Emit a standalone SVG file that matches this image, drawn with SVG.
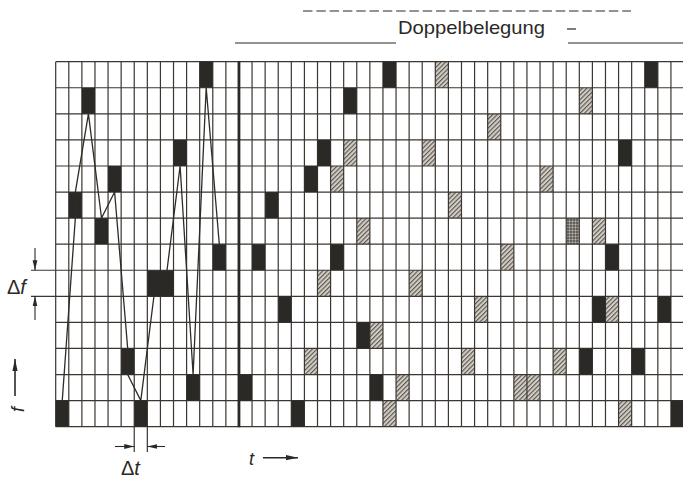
<svg xmlns="http://www.w3.org/2000/svg" width="683" height="479" viewBox="0 0 683 479">
<style>
.g{stroke:#3b3631;stroke-width:1.2;fill:none}
.b{fill:#2b2926}
.h{fill:url(#hatch)}
.s{fill:url(#stip)}
.ln{stroke:#2f2b27;stroke-width:1.3;fill:none}
.t{font-family:"Liberation Sans",Arial,sans-serif;fill:#2b2926}
.i{font-style:italic}
</style>
<defs>
<pattern id="hatch" patternUnits="userSpaceOnUse" width="3.2" height="3.2" patternTransform="rotate(45)">
<rect width="3.2" height="3.2" fill="#d2cec6"/>
<line x1="0.6" y1="0" x2="0.6" y2="3.2" stroke="#4a4641" stroke-width="1"/>
</pattern>
<pattern id="stip" patternUnits="userSpaceOnUse" width="3" height="3">
<rect width="3" height="3" fill="#8d8a84"/>
<circle cx="1" cy="1" r="0.8" fill="#2f2c28"/>
<circle cx="2.4" cy="2.3" r="0.5" fill="#d8d5ce"/>
</pattern>
<marker id="ah" markerUnits="userSpaceOnUse" markerWidth="10" markerHeight="6" refX="10" refY="3" orient="auto">
<path d="M0,0.6 L10,3 L0,5.4 z" fill="#2b2926"/>
</marker>
<marker id="ahb" markerUnits="userSpaceOnUse" markerWidth="12" markerHeight="6" refX="12" refY="3" orient="auto">
<path d="M0,0.4 L12,3 L0,5.6 z" fill="#2b2926"/>
</marker>
</defs>
<rect width="683" height="479" fill="#ffffff"/>

<g id="cells-hatched" class="h">
<rect x="435.31" y="61.7" width="13.09" height="26.07"/>
<rect x="343.68" y="139.91" width="13.09" height="26.07"/>
<rect x="422.22" y="139.91" width="13.09" height="26.07"/>
<rect x="330.59" y="165.98" width="13.09" height="26.07"/>
<rect x="448.4" y="192.05" width="13.09" height="26.07"/>
<rect x="356.77" y="218.12" width="13.09" height="26.07"/>
<rect x="317.5" y="270.26" width="13.09" height="26.07"/>
<rect x="409.13" y="270.26" width="13.09" height="26.07"/>
<rect x="369.86" y="322.4" width="13.09" height="26.07"/>
<rect x="304.41" y="348.47" width="13.09" height="26.07"/>
<rect x="396.04" y="374.54" width="13.09" height="26.07"/>
<rect x="382.95" y="400.61" width="13.09" height="26.07"/>
<rect x="579.3" y="87.77" width="13.09" height="26.07"/>
<rect x="487.67" y="113.84" width="13.09" height="26.07"/>
<rect x="540.03" y="165.98" width="13.09" height="26.07"/>
<rect x="592.39" y="218.12" width="13.09" height="26.07"/>
<rect x="500.76" y="244.19" width="13.09" height="26.07"/>
<rect x="474.58" y="296.33" width="13.09" height="26.07"/>
<rect x="605.48" y="296.33" width="13.09" height="26.07"/>
<rect x="461.49" y="348.47" width="13.09" height="26.07"/>
<rect x="553.12" y="348.47" width="13.09" height="26.07"/>
<rect x="513.85" y="374.54" width="26.18" height="26.07"/>
<rect x="618.57" y="400.61" width="13.09" height="26.07"/>
</g>

<g id="cells-stippled" class="s">
<rect x="566.21" y="218.12" width="13.09" height="26.07"/>
</g>

<g id="grid">
<path class="g" d="M55.7 61.7V426.7M68.79 61.7V426.7M81.88 61.7V426.7M94.97 61.7V426.7M108.06 61.7V426.7M121.15 61.7V426.7M134.24 61.7V452M147.33 61.7V452M160.42 61.7V426.7M173.51 61.7V426.7M186.6 61.7V426.7M199.69 61.7V426.7M212.78 61.7V426.7M225.87 61.7V426.7M252.05 61.7V426.7M265.14 61.7V426.7M278.23 61.7V426.7M291.32 61.7V426.7M304.41 61.7V426.7M317.5 61.7V426.7M330.59 61.7V426.7M343.68 61.7V426.7M356.77 61.7V426.7M369.86 61.7V426.7M382.95 61.7V426.7M396.04 61.7V426.7M409.13 61.7V426.7M422.22 61.7V426.7M435.31 61.7V426.7M448.4 61.7V426.7M461.49 61.7V426.7M474.58 61.7V426.7M487.67 61.7V426.7M500.76 61.7V426.7M513.85 61.7V426.7M526.94 61.7V426.7M540.03 61.7V426.7M553.12 61.7V426.7M566.21 61.7V426.7M579.3 61.7V426.7M592.39 61.7V426.7M605.48 61.7V426.7M618.57 61.7V426.7M631.66 61.7V426.7M644.75 61.7V426.7M657.84 61.7V426.7M670.93 61.7V426.7"/>
<path class="g" d="M55.7 61.7H683M55.7 87.77H683M55.7 113.84H683M55.7 139.91H683M55.7 165.98H683M55.7 192.05H683M55.7 218.12H683M55.7 244.19H683M31 270.26H683M31 296.33H683M55.7 322.4H683M55.7 348.47H683M55.7 374.54H683M55.7 400.61H683M55.7 426.68H683"/>
<line x1="238.96" y1="61.2" x2="238.96" y2="427.2" stroke="#2b2926" stroke-width="2.8"/>
</g>

<g id="cells-black" class="b">
<rect x="199.69" y="61.7" width="13.09" height="26.07"/>
<rect x="81.88" y="87.77" width="13.09" height="26.07"/>
<rect x="173.51" y="139.91" width="13.09" height="26.07"/>
<rect x="108.06" y="165.98" width="13.09" height="26.07"/>
<rect x="68.79" y="192.05" width="13.09" height="26.07"/>
<rect x="94.97" y="218.12" width="13.09" height="26.07"/>
<rect x="212.78" y="244.19" width="13.09" height="26.07"/>
<rect x="147.33" y="270.26" width="26.18" height="26.07"/>
<rect x="121.15" y="348.47" width="13.09" height="26.07"/>
<rect x="186.6" y="374.54" width="13.09" height="26.07"/>
<rect x="55.7" y="400.61" width="13.09" height="26.07"/>
<rect x="134.24" y="400.61" width="13.09" height="26.07"/>
<rect x="238.96" y="374.54" width="13.09" height="26.07"/>
<rect x="382.95" y="61.7" width="13.09" height="26.07"/>
<rect x="343.68" y="87.77" width="13.09" height="26.07"/>
<rect x="317.5" y="139.91" width="13.09" height="26.07"/>
<rect x="304.41" y="165.98" width="13.09" height="26.07"/>
<rect x="265.14" y="192.05" width="13.09" height="26.07"/>
<rect x="252.05" y="244.19" width="13.09" height="26.07"/>
<rect x="330.59" y="244.19" width="13.09" height="26.07"/>
<rect x="278.23" y="296.33" width="13.09" height="26.07"/>
<rect x="356.77" y="322.4" width="13.09" height="26.07"/>
<rect x="369.86" y="374.54" width="13.09" height="26.07"/>
<rect x="291.32" y="400.61" width="13.09" height="26.07"/>
<rect x="644.75" y="61.7" width="13.09" height="26.07"/>
<rect x="618.57" y="139.91" width="13.09" height="26.07"/>
<rect x="605.48" y="244.19" width="13.09" height="26.07"/>
<rect x="592.39" y="296.33" width="13.09" height="26.07"/>
<rect x="657.84" y="296.33" width="13.09" height="26.07"/>
<rect x="579.3" y="348.47" width="13.09" height="26.07"/>
<rect x="631.66" y="348.47" width="13.09" height="26.07"/>
<rect x="670.93" y="400.61" width="13.09" height="26.07"/>
</g>

<g id="connectors">
<path class="ln" d="M62.25 400.61L75.34 218.12L75.34 192.05L88.43 113.84L101.52 218.12L114.6 192.05L127.7 348.47L127.7 374.54L140.8 400.61L153.9 296.33L167 270.26L180.1 165.98L193.1 374.54L206.2 87.77L219.3 244.19"/>
</g>

<g id="top-labels">
<line x1="303" y1="11" x2="631" y2="11" stroke="#2b2926" stroke-width="1.2" stroke-dasharray="9.5 3.8"/>
<text class="t" x="398" y="33.5" font-size="18.5" textLength="147" lengthAdjust="spacingAndGlyphs">Doppelbelegung</text>
<line x1="567" y1="29" x2="576" y2="29" stroke="#2b2926" stroke-width="1.2"/>
<line x1="235" y1="43" x2="396" y2="43" stroke="#2b2926" stroke-width="1.2"/>
<line x1="568" y1="43" x2="683" y2="43" stroke="#2b2926" stroke-width="1.2"/>
</g>

<g id="delta-f">
<line x1="35" y1="248" x2="35" y2="270.26" stroke="#2b2926" stroke-width="1.1" marker-end="url(#ah)"/>
<line x1="35" y1="320" x2="35" y2="296.33" stroke="#2b2926" stroke-width="1.1" marker-end="url(#ah)"/>
<text class="t" x="7" y="294" font-size="20">Δ<tspan class="i">f</tspan></text>
</g>

<g id="f-axis">
<line x1="15" y1="396" x2="15" y2="359" stroke="#2b2926" stroke-width="1.6" marker-end="url(#ahb)"/>
<text class="t i" font-size="18" transform="translate(24,412) rotate(-90)">f</text>
</g>

<g id="delta-t">
<line x1="115" y1="446.5" x2="134.24" y2="446.5" stroke="#2b2926" stroke-width="1.1" marker-end="url(#ah)"/>
<line x1="165" y1="446.5" x2="147.33" y2="446.5" stroke="#2b2926" stroke-width="1.1" marker-end="url(#ah)"/>
<text class="t" x="121" y="475" font-size="20">Δ<tspan class="i">t</tspan></text>
</g>

<g id="t-axis">
<text class="t i" x="249" y="465" font-size="18">t</text>
<line x1="263" y1="457.7" x2="298" y2="457.7" stroke="#2b2926" stroke-width="1.4" marker-end="url(#ahb)"/>
</g>
</svg>
